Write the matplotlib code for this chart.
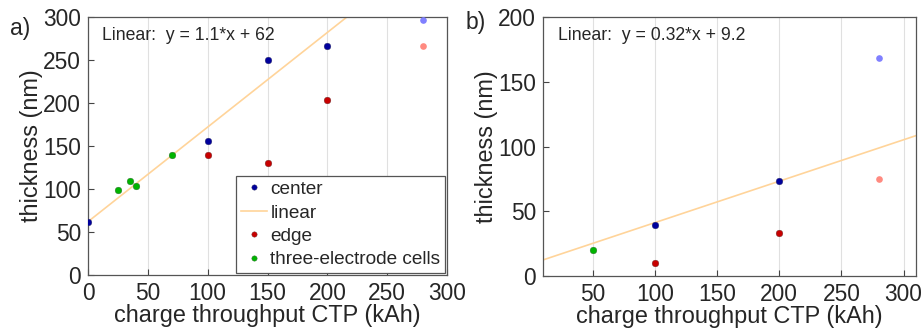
import numpy as np
import matplotlib
matplotlib.use('Agg')
import matplotlib.pyplot as plt

plt.rcParams['font.family'] = ['Liberation Sans', 'DejaVu Sans']
plt.rcParams['text.color'] = '#262626'
plt.rcParams['axes.labelcolor'] = '#262626'
plt.rcParams['xtick.labelcolor'] = '#262626'
plt.rcParams['ytick.labelcolor'] = '#262626'

# panel a
a_center_x = [0, 100, 150, 200]
a_center_y = [62, 156, 250, 266]
a_edge_x = [100, 150, 200]
a_edge_y = [140, 130, 203]
a_three_x = [25, 35, 40, 70]
a_three_y = [99, 109, 104, 140]
a_light_center = (280, 297)
a_light_edge = (280, 266)
a_fit = (1.1, 62)

# panel b
b_center_x = [100, 200]
b_center_y = [39, 73]
b_edge_x = [100, 200]
b_edge_y = [10, 33]
b_three_x = [50]
b_three_y = [20]
b_light_center = (280, 168)
b_light_edge = (280, 75)
b_fit = (0.32, 9.2)

c_center = '#00009c'
c_edge = '#c80000'
c_three = '#00b400'
c_lcenter = '#8080ff'
c_ledge = '#ff8a80'
c_line = '#ffd49a'

fig = plt.figure(figsize=(9.21, 3.35), dpi=100)
ax1 = fig.add_axes([88/921, 1-275/335, 359/921, 258/335])
ax2 = fig.add_axes([543/921, 1-276/335, 373/921, 259/335])


def style(ax):
    ax.tick_params(direction='in', labelsize=16.4, length=4, color='#444444', pad=5)
    for s in ax.spines.values():
        s.set_color('#555555')
        s.set_linewidth(0.9)
    ax.grid(axis='x', color='#e0e0e0', linewidth=0.8)
    ax.set_axisbelow(True)
    ax.set_xlabel('charge throughput CTP (kAh)', fontsize=16.9, labelpad=-1)
    ax.set_ylabel('thickness (nm)', fontsize=16.9, labelpad=0)


ms = 4.8
xs = np.array([0, 300])
ax1.plot(a_center_x, a_center_y, 'o', color=c_center, ms=ms, mec='#333366', mew=0.3, label='center', zorder=3)
ax1.plot(xs, a_fit[0] * xs + a_fit[1], color=c_line, lw=1.2, label='linear', zorder=2)
ax1.plot(a_edge_x, a_edge_y, 'o', color=c_edge, ms=ms, mec='#663333', mew=0.3, label='edge', zorder=3)
ax1.plot(a_three_x, a_three_y, 'o', color=c_three, ms=ms, mec='#336633', mew=0.3, label='three-electrode cells', zorder=3)
ax1.plot(*a_light_center, 'o', color=c_lcenter, ms=ms, mew=0, zorder=3)
ax1.plot(*a_light_edge, 'o', color=c_ledge, ms=ms, mew=0, zorder=3)
ax1.set_xlim(0, 300)
ax1.set_ylim(0, 300)
ax1.set_xticks(range(0, 301, 50))
ax1.set_yticks(range(0, 301, 50))
style(ax1)
ax1.text(0.04, 0.93, 'Linear:  y = 1.1*x + 62', transform=ax1.transAxes, fontsize=12.7, va='center')
leg = ax1.legend(loc='lower right', fontsize=13.7, fancybox=False, framealpha=1,
                 edgecolor='#555555', borderpad=0.25, labelspacing=0.32,
                 handlelength=1.4, handletextpad=0.15, borderaxespad=0.1,
                 markerscale=0.8)
leg.get_frame().set_linewidth(0.9)
fig.text(10/921, 1-28/335, 'a)', fontsize=16.5, va='center')

xs = np.array([10, 310])
ax2.plot(b_center_x, b_center_y, 'o', color=c_center, ms=ms, mec='#333366', mew=0.3, zorder=3)
ax2.plot(xs, b_fit[0] * xs + b_fit[1], color=c_line, lw=1.2, zorder=2)
ax2.plot(b_edge_x, b_edge_y, 'o', color=c_edge, ms=ms, mec='#663333', mew=0.3, zorder=3)
ax2.plot(b_three_x, b_three_y, 'o', color=c_three, ms=ms, mec='#336633', mew=0.3, zorder=3)
ax2.plot(*b_light_center, 'o', color=c_lcenter, ms=ms, mew=0, zorder=3)
ax2.plot(*b_light_edge, 'o', color=c_ledge, ms=ms, mew=0, zorder=3)
ax2.set_xlim(10, 310)
ax2.set_ylim(0, 200)
ax2.set_xticks(range(50, 301, 50))
ax2.set_yticks(range(0, 201, 50))
style(ax2)
ax2.text(0.04, 0.93, 'Linear:  y = 0.32*x + 9.2', transform=ax2.transAxes, fontsize=12.7, va='center')
fig.text(466/921, 1-22/335, 'b)', fontsize=16.5, va='center')

fig.savefig('out.png', dpi=100)
